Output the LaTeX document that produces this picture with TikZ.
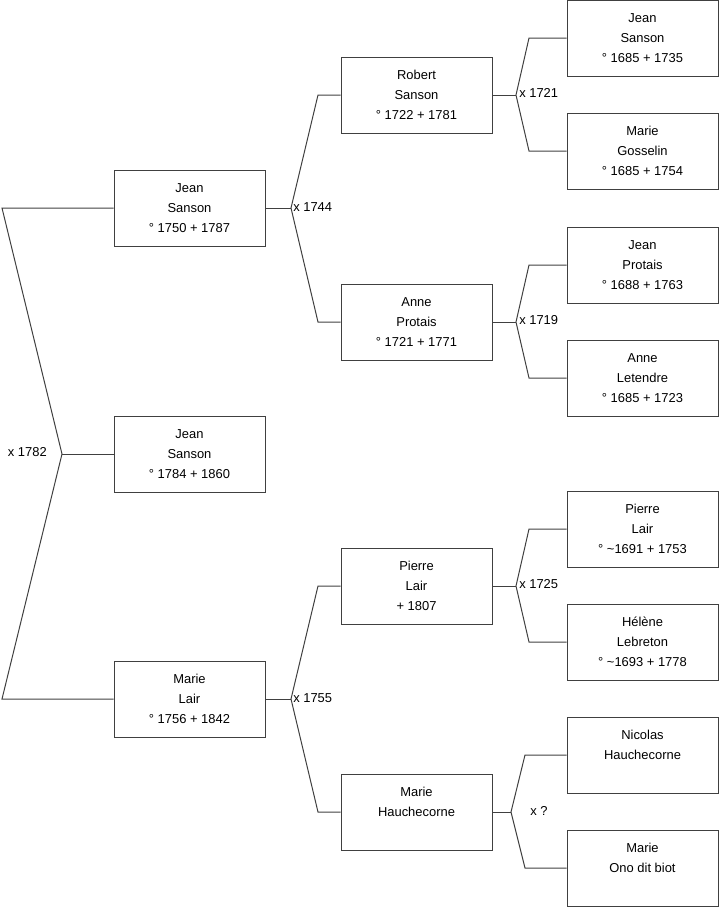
\documentclass[tikz,border=0pt]{standalone}
\usepackage{fontspec}
\setmainfont{Liberation Sans}
\begin{document}
\begin{tikzpicture}[x=0.75pt,y=-0.75pt,
  person/.style={draw=black!75, line width=0.75pt, minimum width=113.25pt, minimum height=57pt, inner sep=0pt, align=center, font=\fontsize{9.7}{15}\selectfont},
  link/.style={draw=black!75, line width=0.75pt},
  union/.style={inner sep=0pt, font=\fontsize{9.7}{15}\selectfont}]
\useasboundingbox (0,0) rectangle (719,908);

% column 1
\node[person] (js1750) at (189.5,208) {Jean\\Sanson\\° 1750 + 1787};
\node[person] (js1784) at (189.5,454) {Jean\\Sanson\\° 1784 + 1860};
\node[person] (ml1756) at (189.5,699) {Marie\\Lair\\° 1756 + 1842};

% column 2
\node[person] (rs1722) at (416.5,95) {Robert\\Sanson\\° 1722 + 1781};
\node[person] (ap1721) at (416.5,322) {Anne\\Protais\\° 1721 + 1771};
\node[person] (pl1807) at (416.5,586) {Pierre\\Lair\\+ 1807};
\node[person] (mh) at (416.5,812) {Marie\\Hauchecorne\\\phantom{0}};

% column 3
\node[person] (js1685) at (642.5,38) {Jean\\Sanson\\° 1685 + 1735};
\node[person] (mg1685) at (642.5,151) {Marie\\Gosselin\\° 1685 + 1754};
\node[person] (jp1688) at (642.5,265) {Jean\\Protais\\° 1688 + 1763};
\node[person] (al1685) at (642.5,378) {Anne\\Letendre\\° 1685 + 1723};
\node[person] (pl1691) at (642.5,529) {Pierre\\Lair\\° \textasciitilde1691 + 1753};
\node[person] (hl1693) at (642.5,642) {Hélène\\Lebreton\\° \textasciitilde1693 + 1778};
\node[person] (nh) at (642.5,755) {Nicolas\\Hauchecorne\\\phantom{0}};
\node[person] (mo) at (642.5,868) {Marie\\Ono dit biot\\\phantom{0}};

% fork coordinates
\coordinate (f0) at (62,454);
\coordinate (f0t) at (2,208);
\coordinate (f0b) at (2,699);

\coordinate (f1) at (291,208);
\coordinate (f1t) at (318,95);
\coordinate (f1b) at (318,322);

\coordinate (f2) at (291,699);
\coordinate (f2t) at (318,586);
\coordinate (f2b) at (318,812);

\coordinate (f3) at (516,95);
\coordinate (f3t) at (529,38);
\coordinate (f3b) at (529,151);

\coordinate (f4) at (516,322);
\coordinate (f4t) at (529,265);
\coordinate (f4b) at (529,378);

\coordinate (f5) at (516,586);
\coordinate (f5t) at (529,529);
\coordinate (f5b) at (529,642);

\coordinate (f6) at (511,812);
\coordinate (f6t) at (525,755);
\coordinate (f6b) at (525,868);

% connectors
\draw[link] (js1750.west) -- (f0t) -- (f0) -- (f0b) -- (ml1756.west);
\draw[link] (f0) -- (js1784.west);

\draw[link] (js1750.east) -- (f1);
\draw[link] (rs1722.west) -- (f1t) -- (f1) -- (f1b) -- (ap1721.west);

\draw[link] (ml1756.east) -- (f2);
\draw[link] (pl1807.west) -- (f2t) -- (f2) -- (f2b) -- (mh.west);

\draw[link] (rs1722.east) -- (f3);
\draw[link] (js1685.west) -- (f3t) -- (f3) -- (f3b) -- (mg1685.west);

\draw[link] (ap1721.east) -- (f4);
\draw[link] (jp1688.west) -- (f4t) -- (f4) -- (f4b) -- (al1685.west);

\draw[link] (pl1807.east) -- (f5);
\draw[link] (pl1691.west) -- (f5t) -- (f5) -- (f5b) -- (hl1693.west);

\draw[link] (mh.east) -- (f6);
\draw[link] (nh.west) -- (f6t) -- (f6) -- (f6b) -- (mo.west);

% union labels
\node[union, anchor=east] (u0) at (47,452) {x 1782};
\node[union, anchor=west] (u1) at (293,207) {x 1744};
\node[union, anchor=west] (u2) at (293,698) {x 1755};
\node[union, anchor=west] (u3) at (519,93) {x 1721};
\node[union, anchor=west] (u4) at (519,320) {x 1719};
\node[union, anchor=west] (u5) at (519,584) {x 1725};
\node[union, anchor=west] (u6) at (530,811) {x ?};
\end{tikzpicture}
\end{document}
